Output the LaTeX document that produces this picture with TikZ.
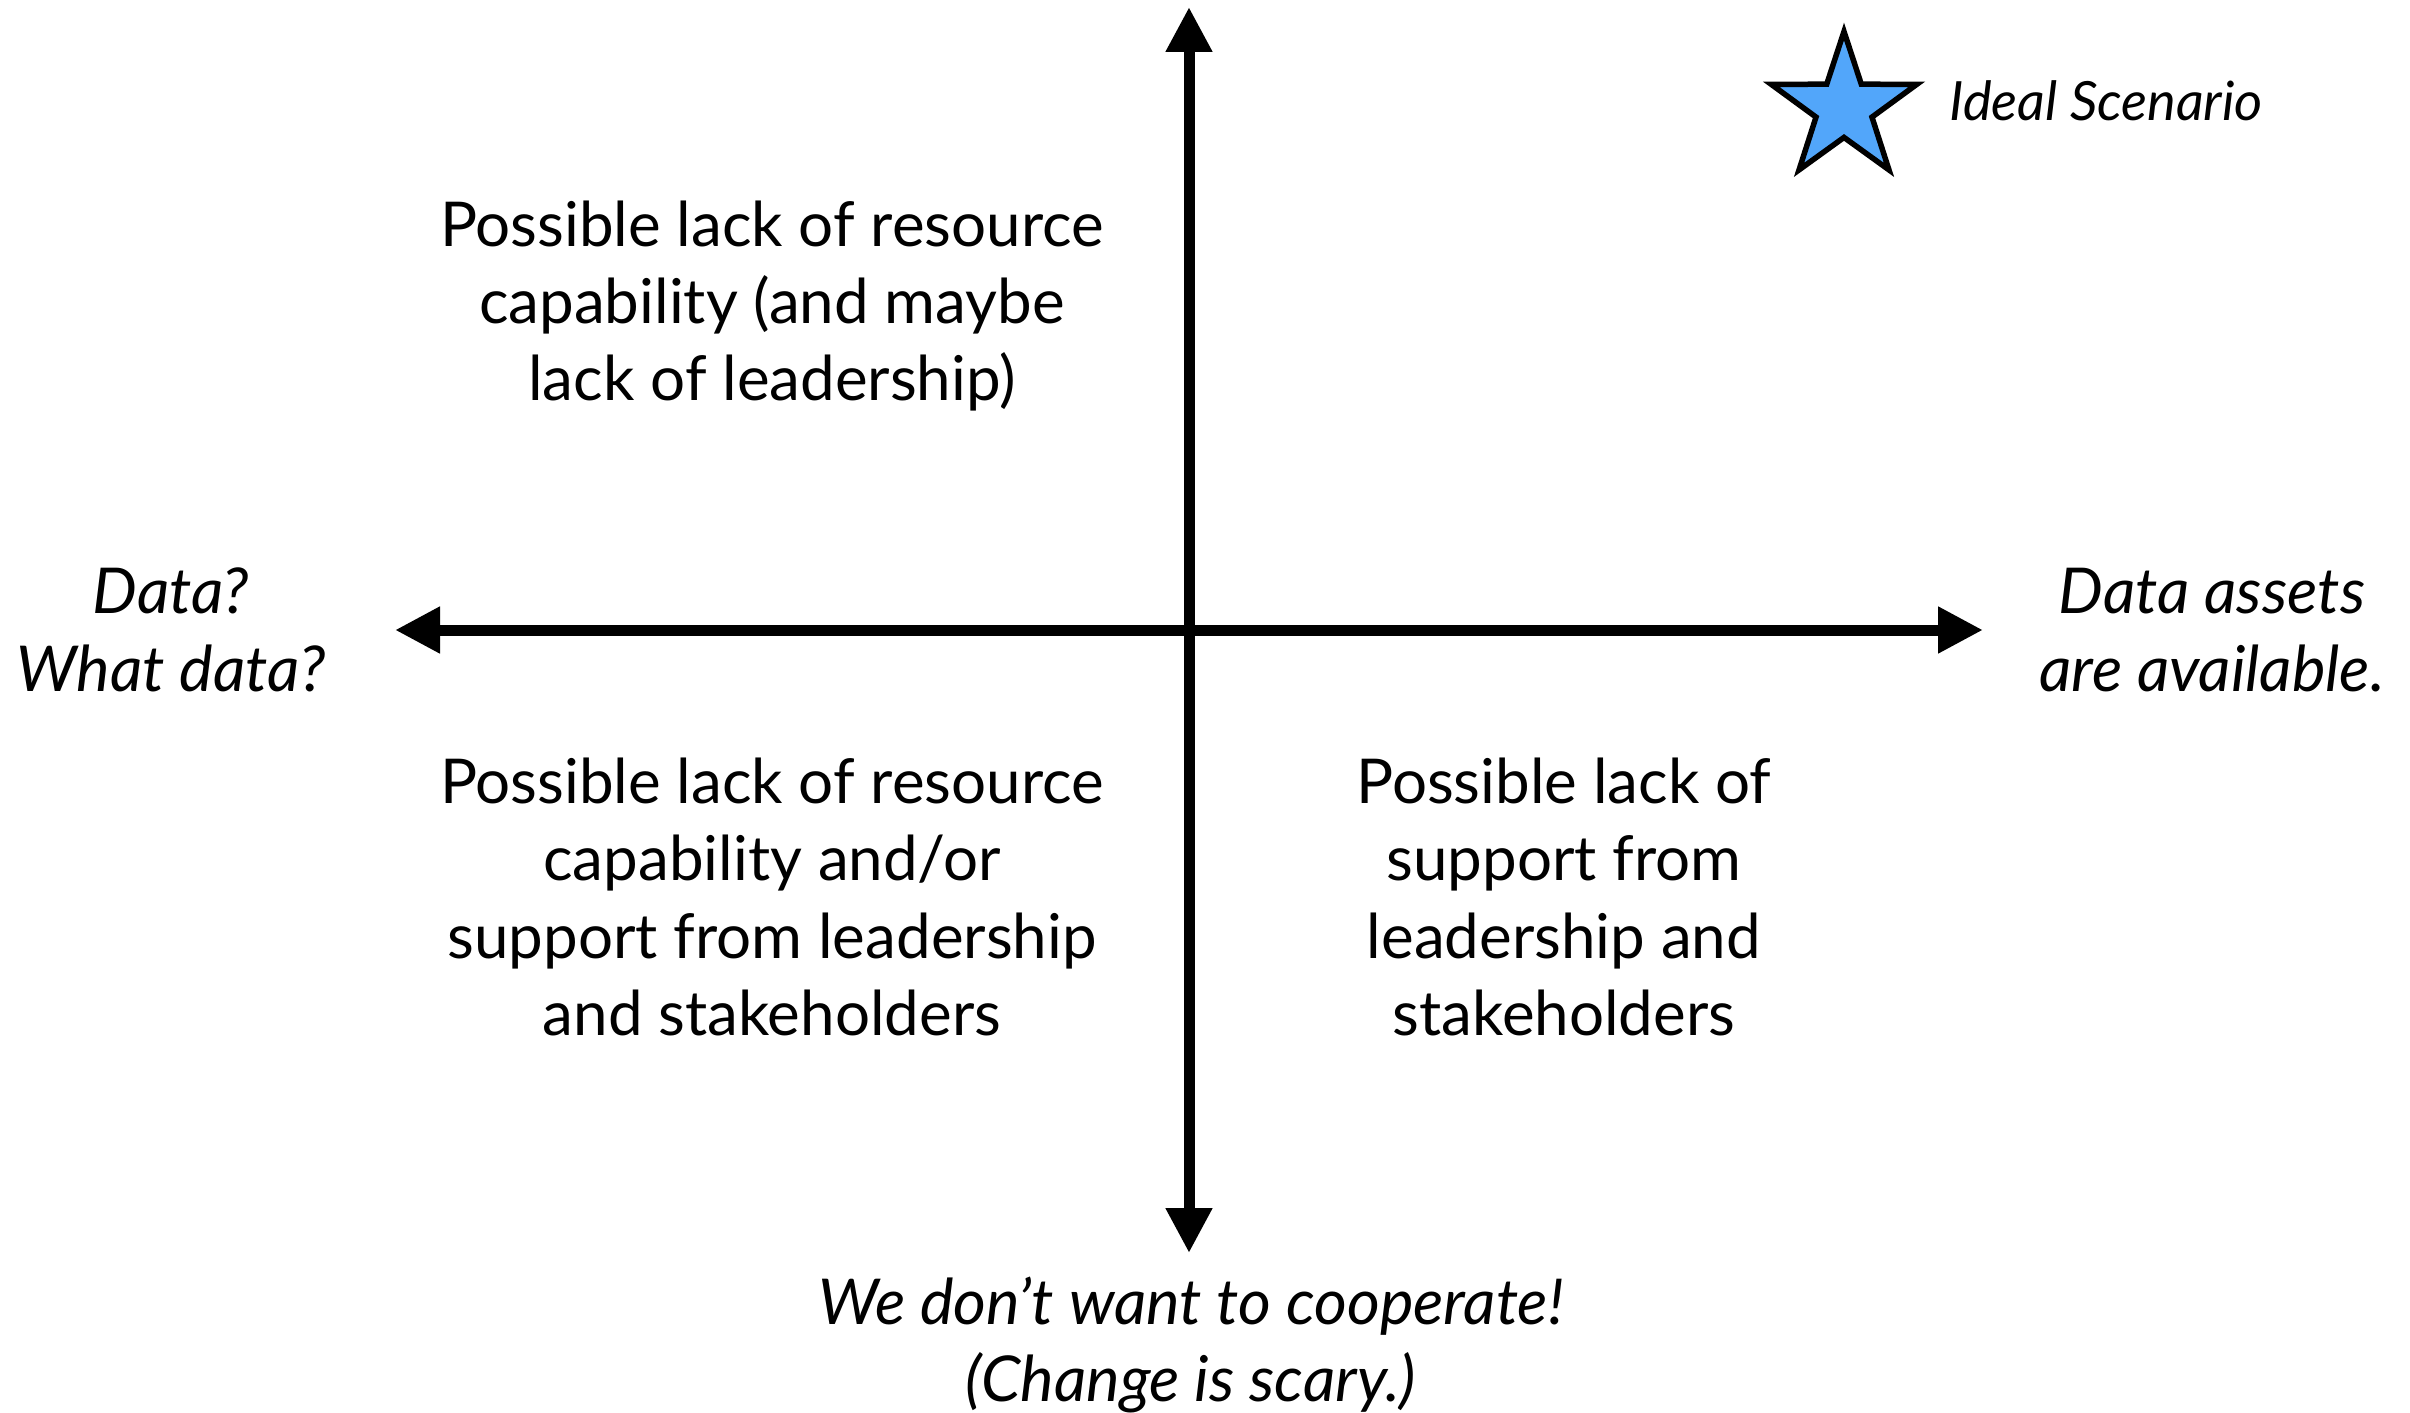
\documentclass[tikz,border=0pt]{standalone}
\usepackage{fontspec}
\setmainfont{Lato}
\usepackage{tikz}
\usetikzlibrary{%
	arrows.meta,%
	shapes.geometric,%
	positioning
}
\definecolor{starblue}{RGB}{82,166,250}

\begin{document}
\begin{tikzpicture}[x=0.1mm,y=-0.1mm,
		axis/.style={line width=1.1mm,-{Triangle[length=4.5mm,width=4.4mm]}},
		quadtext/.style={align=center,font=\fontsize{17.6}{22}\selectfont},
		endlabel/.style={align=center,font=\fontsize{18}{22}\selectfont\itshape}]
			\useasboundingbox (0,0) rectangle (2410,1413);
			% Axes
			\coordinate (top) at (1189,7);
			\coordinate (bottom) at (1189,1253);
			\coordinate (left) at (395,630);
			\coordinate (right) at (1983,630);
			\coordinate (origin) at (1189,630);
			\draw[axis] (origin) -- (top);
			\draw[axis] (origin) -- (bottom);
			\draw[axis] (origin) -- (left);
			\draw[axis] (origin) -- (right);
			
			% Quadrants
			\node[quadtext] (upleft) at (772,306) {Possible lack of resource\\capability (and maybe\\lack of leadership)};
			\node[quadtext] (lowleft) at (772,897) {Possible lack of resource\\capability and/or\\support from leadership\\and stakeholders};
			\node[quadtext] (lowright) at (1564,897) {Possible lack of\\support from\\leadership and\\stakeholders};
			
			% Axis ends
			\node[endlabel] (nodata) at (171,630) {Data?\\What data?};
			\node[endlabel] (hasdata) at (2212,630) {Data assets\\are available.};
			\node[endlabel] (nocoop) at (1191,1345) {We don’t want to cooperate!\\(Change is scary.)};
			
			% Ideal
			\node[star,star points=5,star point ratio=2.6,minimum size=15.3mm,inner sep=0pt,
				draw,line width=0.55mm,fill=starblue] (ideal) at (1844,108) {};
			\node[font=\fontsize{15.4}{18}\selectfont\itshape,anchor=west] (idealtext) at (1937,101) {Ideal Scenario};
		\end{tikzpicture}
\end{document}
